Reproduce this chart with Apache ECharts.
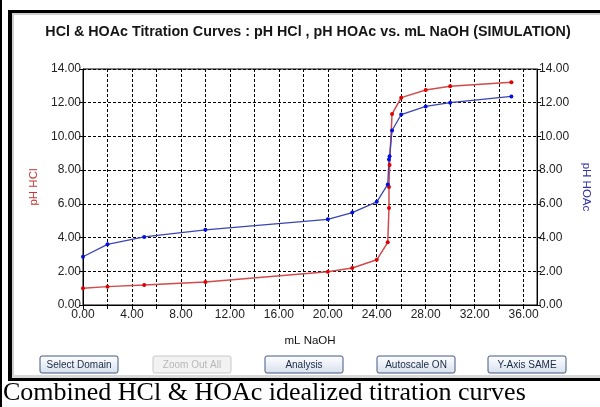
<!DOCTYPE html>
<html>
<head>
<meta charset="utf-8">
<script src="https://cdn.jsdelivr.net/npm/echarts@6/dist/echarts.min.js"></script>
<style>
  html, body { margin: 0; padding: 0; background: #fff; }
  #myChart { width: 600px; height: 407px; }
</style>
</head>
<body>
<div id="myChart"></div>
<script>
// 数据
const hclX  = [0, 2, 5, 10, 20, 22, 24, 24.9, 25, 25, 25.05, 25.25, 26, 28, 30, 35]
const hclPH = [1.00, 1.09, 1.19, 1.37, 1.97, 2.20, 2.68, 3.72, 5.75, 7.00, 8.30, 11.33, 12.30, 12.75, 12.98, 13.22]
const hoacX  = [0, 2, 5, 10, 20, 22, 24, 24.9, 25, 25.05, 25.25, 26, 28, 30, 35]
const hoacPH = [2.86, 3.60, 4.04, 4.46, 5.08, 5.48, 6.12, 7.15, 8.63, 8.83, 10.35, 11.30, 11.78, 12.00, 12.37]
const buttons = ['Select Domain', 'Zoom Out All', 'Analysis', 'Autoscale ON', 'Y-Axis SAME']
const buttonOn = [true, false, true, true, true]

function pairs(xs, ys) {
  let out = []
  for (let i = 0; i < xs.length; i++) out.push([xs[i], ys[i]])
  return out
}

const fmt2 = v => v.toFixed(2)
const dash = { color: '#000', type: [3, 2], width: 1 }

// 外框 / 按钮
let graphics = [
  { type: 'rect', shape: { x: 0, y: 0, width: 2, height: 407 }, style: { fill: '#000' } },
  { type: 'rect', shape: { x: 8, y: 10, width: 4, height: 371 }, style: { fill: '#000' } },
  { type: 'rect', shape: { x: 8, y: 10, width: 592, height: 3 }, style: { fill: '#000' } },
  { type: 'rect', shape: { x: 8, y: 378, width: 592, height: 3 }, style: { fill: '#000' } },
  { type: 'rect', shape: { x: 12, y: 13, width: 588, height: 2 }, style: { fill: '#cfcfcf' } },
  { type: 'rect', shape: { x: 12, y: 13, width: 2, height: 365 }, style: { fill: '#cfcfcf' } },
  { type: 'rect', shape: { x: 12, y: 375, width: 588, height: 3 }, style: { fill: '#d8d8d8' } },
  {
    type: 'text', x: 308, y: 32,
    style: { text: 'HCl & HOAc Titration Curves : pH HCl , pH HOAc vs. mL NaOH (SIMULATION)',
      font: 'bold 14.3px "Liberation Sans", Arial', fill: '#161616', align: 'center', verticalAlign: 'middle' }
  },
  {
    type: 'text', x: 3, y: 393,
    style: { text: 'Combined HCl & HOAc idealized titration curves',
      font: '26px "Liberation Serif", "Times New Roman"', fill: '#000', align: 'left', verticalAlign: 'middle' }
  }
]
const btnLeft = [40, 153, 265, 377, 488]
for (let i = 0; i < buttons.length; i++) {
  let on = buttonOn[i]
  graphics.push({
    type: 'rect',
    shape: { x: btnLeft[i], y: 356, width: 78, height: 17, r: 2 },
    style: {
      fill: on ? new echarts.graphic.LinearGradient(0, 0, 0, 1, [
        { offset: 0, color: '#ffffff' }, { offset: 1, color: '#d7e0ee' }]) : '#f2f2f2',
      stroke: on ? '#41587e' : '#c8c8c8', lineWidth: 1
    }
  })
  graphics.push({
    type: 'text', x: btnLeft[i] + 39, y: 365,
    style: { text: buttons[i], font: '10px "Liberation Sans", Arial',
      fill: on ? '#1a2a44' : '#b8b8b8', align: 'center', verticalAlign: 'middle' }
  })
}

let option = {
  animation: false,
  backgroundColor: '#fff',
  grid: { left: 83, right: 62, top: 69, bottom: 102, show: true, borderColor: '#000', borderWidth: 1, backgroundColor: '#fff' },
  graphic: graphics,
  xAxis: {
    type: 'value', min: 0, max: 37.1, interval: 2,
    name: 'mL NaOH', nameLocation: 'middle', nameGap: 30,
    nameTextStyle: { color: '#111', fontSize: 11.5, fontFamily: 'Liberation Sans' },
    axisLine: { onZero: false, lineStyle: { color: '#000' } },
    axisTick: { length: 4, lineStyle: { color: '#000' } },
    axisLabel: {
      color: '#222', fontSize: 12, fontFamily: 'Liberation Sans', margin: 4, showMaxLabel: false,
      formatter: v => (Math.abs(v % 4) < 1e-6 ? fmt2(v) : '')
    },
    splitLine: { show: true, lineStyle: dash }
  },
  yAxis: [{
    type: 'value', min: 0, max: 14, interval: 2, position: 'left',
    name: 'pH HCl', nameLocation: 'middle', nameGap: 42,
    nameTextStyle: { color: '#cc3333', fontSize: 11.5, fontFamily: 'Liberation Sans' },
    axisLine: { show: true, lineStyle: { color: '#000' } },
    axisTick: { show: true, length: 4, lineStyle: { color: '#000' } },
    axisLabel: { color: '#222', fontSize: 12, fontFamily: 'Liberation Sans', margin: 2, formatter: fmt2 },
    splitLine: { show: true, lineStyle: dash }
  }, {
    type: 'value', min: 0, max: 14, interval: 2, position: 'right',
    name: 'pH HOAc', nameLocation: 'middle', nameGap: 40, nameRotate: -90,
    nameTextStyle: { color: '#3333aa', fontSize: 11.5, fontFamily: 'Liberation Sans' },
    axisLine: { show: true, lineStyle: { color: '#000' } },
    axisTick: { show: true, length: 4, lineStyle: { color: '#000' } },
    axisLabel: { color: '#222', fontSize: 12, fontFamily: 'Liberation Sans', margin: 2, formatter: fmt2 },
    splitLine: { show: false }
  }],
  series: [
    {
      name: 'pH HCl', type: 'line', yAxisIndex: 0,
      data: pairs(hclX, hclPH),
      symbol: 'circle', symbolSize: 4,
      lineStyle: { color: '#d24a4a', width: 1.5 },
      itemStyle: { color: '#e00000' }
    },
    {
      name: 'pH HOAc', type: 'line', yAxisIndex: 1,
      data: pairs(hoacX, hoacPH),
      symbol: 'circle', symbolSize: 4,
      lineStyle: { color: '#3b44b4', width: 1.3 },
      itemStyle: { color: '#0010e0' }
    }
  ]
}
let myChart = echarts.init(document.getElementById('myChart'))
myChart.setOption(option)
</script>
</body>
</html>
